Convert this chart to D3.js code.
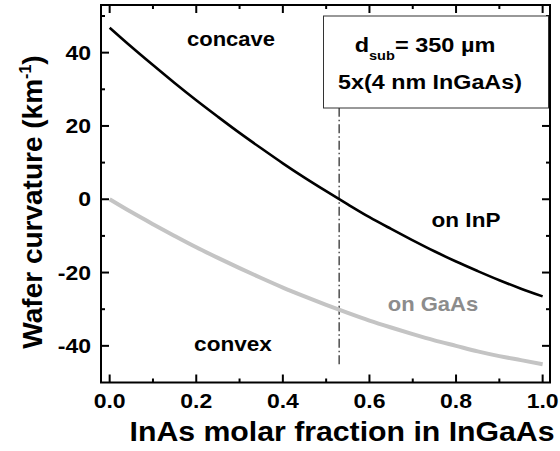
<!DOCTYPE html>
<html>
<head>
<meta charset="utf-8">
<script src="https://d3js.org/d3.v7.min.js"></script>
<style>
  body { margin: 0; background: #fff; }
  svg text { font-family: "Liberation Sans", Arial, sans-serif; font-weight: bold; }
</style>
</head>
<body>
<script>
// InAs molar fraction
var fraction = [0, 0.05, 0.1, 0.15, 0.2, 0.25, 0.3, 0.35, 0.4, 0.45, 0.5,
                0.55, 0.6, 0.65, 0.7, 0.75, 0.8, 0.85, 0.9, 0.95, 1.0];
// curvature (1/km)
var onInP  = [46.8, 41.6, 36.6, 31.7, 27.0, 22.5, 18.1, 13.9, 9.8, 5.9, 2.2,
              -1.4, -4.9, -8.1, -11.2, -14.2, -17.0, -19.6, -22.1, -24.4, -26.5];
var onGaAs = [0, -3.5, -6.8, -10.0, -13.1, -16.0, -18.8, -21.5, -24.1, -26.5, -28.8,
              -31.0, -33.1, -35.0, -36.8, -38.5, -40.0, -41.5, -42.8, -43.9, -45.0];
var xTicks = [0, 0.2, 0.4, 0.6, 0.8, 1.0];
var yTicks = [-40, -20, 0, 20, 40];
var matchX = 0.53;

var W = 560, H = 451;
var svg = d3.select("body").append("svg").attr("width", W).attr("height", H);

var x = d3.scaleLinear().domain([-0.02, 1.017]).range([101, 550]);
var y = d3.scaleLinear().domain([-50, 53]).range([382.5, 5]);

var xMinor = d3.range(0, 1.001, 0.1);
var yMinor = d3.range(-40, 50.1, 10);

// text that is a bit wider than normal, like the original
function label(px, py, txt, size, anchor, sx, fill) {
  return svg.append("text")
    .attr("transform", "translate(" + px + "," + py + ") scale(" + sx + ",1)")
    .attr("text-anchor", anchor).style("font-size", size + "px")
    .attr("fill", fill || "#000").text(txt);
}

// ticks, all pointing inward
function tickAxis(axis, sc, major, minor, len, ml) {
  var g = svg.append("g");
  var mk = minor.filter(function(v) { return !major.some(function(m) { return Math.abs(m - v) < 1e-6; }); });
  function draw(vals, l) {
    g.selectAll(null).data(vals).enter().append("line")
      .attr("x1", function(d) { return axis == "b" || axis == "t" ? sc(d) : (axis == "l" ? 101 : 550); })
      .attr("x2", function(d) { return axis == "b" || axis == "t" ? sc(d) : (axis == "l" ? 101 + l : 550 - l); })
      .attr("y1", function(d) { return axis == "l" || axis == "r" ? sc(d) : (axis == "b" ? 382.5 : 5); })
      .attr("y2", function(d) { return axis == "l" || axis == "r" ? sc(d) : (axis == "b" ? 382.5 - l : 5 + l); })
      .attr("stroke", "#000").attr("stroke-width", 2);
  }
  draw(major, len);
  draw(mk, ml);
}
tickAxis("b", x, xTicks, xMinor, 8, 4);
tickAxis("t", x, xTicks, xMinor, 8, 4);
tickAxis("l", y, yTicks, yMinor, 8, 4);
tickAxis("r", y, yTicks, yMinor, 8, 4);

// dash-dot marker at lattice match
svg.append("line")
  .attr("x1", x(matchX)).attr("x2", x(matchX))
  .attr("y1", y(-45)).attr("y2", y(50))
  .attr("stroke", "#222").attr("stroke-width", 1.2)
  .attr("stroke-dasharray", "9,3,1.5,3");

var line = d3.line()
  .x(function(d, i) { return x(fraction[i]); })
  .y(function(d) { return y(d); })
  .curve(d3.curveMonotoneX);

svg.append("path").datum(onGaAs).attr("d", line)
  .attr("fill", "none").attr("stroke", "#c4c4c4").attr("stroke-width", 4);
svg.append("path").datum(onInP).attr("d", line)
  .attr("fill", "none").attr("stroke", "#000").attr("stroke-width", 2.6);

// frame
svg.append("rect").attr("x", 101).attr("y", 5).attr("width", 449).attr("height", 377.5)
  .attr("fill", "none").attr("stroke", "#000").attr("stroke-width", 2);

// info box
svg.append("rect").attr("x", 323.5).attr("y", 16).attr("width", 225).attr("height", 92)
  .attr("fill", "#fff").attr("stroke", "#333").attr("stroke-width", 1);
var t1 = label(425, 52, "", 21, "middle", 1.12);
t1.append("tspan").text("d");
t1.append("tspan").attr("dy", 8).style("font-size", "13px").text("sub");
t1.append("tspan").attr("dy", -8).text("= 350 \u00b5m");
label(430, 89, "5x(4 nm InGaAs)", 21, "middle", 1.11);

// annotations
label(231, 46, "concave", 20, "middle", 1.1);
label(233, 351, "convex", 20, "middle", 1.13);
label(466, 227, "on InP", 20, "middle", 1.13);
label(433, 311, "on GaAs", 20, "middle", 1.1, "#8c8c8c");

// tick labels
xTicks.forEach(function(d) {
  label(x(d), 408, d3.format(".1f")(d), 20, "middle", 1.15);
});
yTicks.forEach(function(d) {
  label(91, y(d) + 7, d, 20, "end", 1.15);
});

// axis titles
label(342, 441, "InAs molar fraction in InGaAs", 28, "middle", 1.08);
var yt = svg.append("text").attr("transform", "translate(42,202) rotate(-90)")
  .attr("text-anchor", "middle").style("font-size", "28px");
yt.append("tspan").text("Wafer curvature (km");
yt.append("tspan").attr("dy", -11).style("font-size", "16px").text("-1");
yt.append("tspan").attr("dy", 11).text(")");
</script>
</body>
</html>
